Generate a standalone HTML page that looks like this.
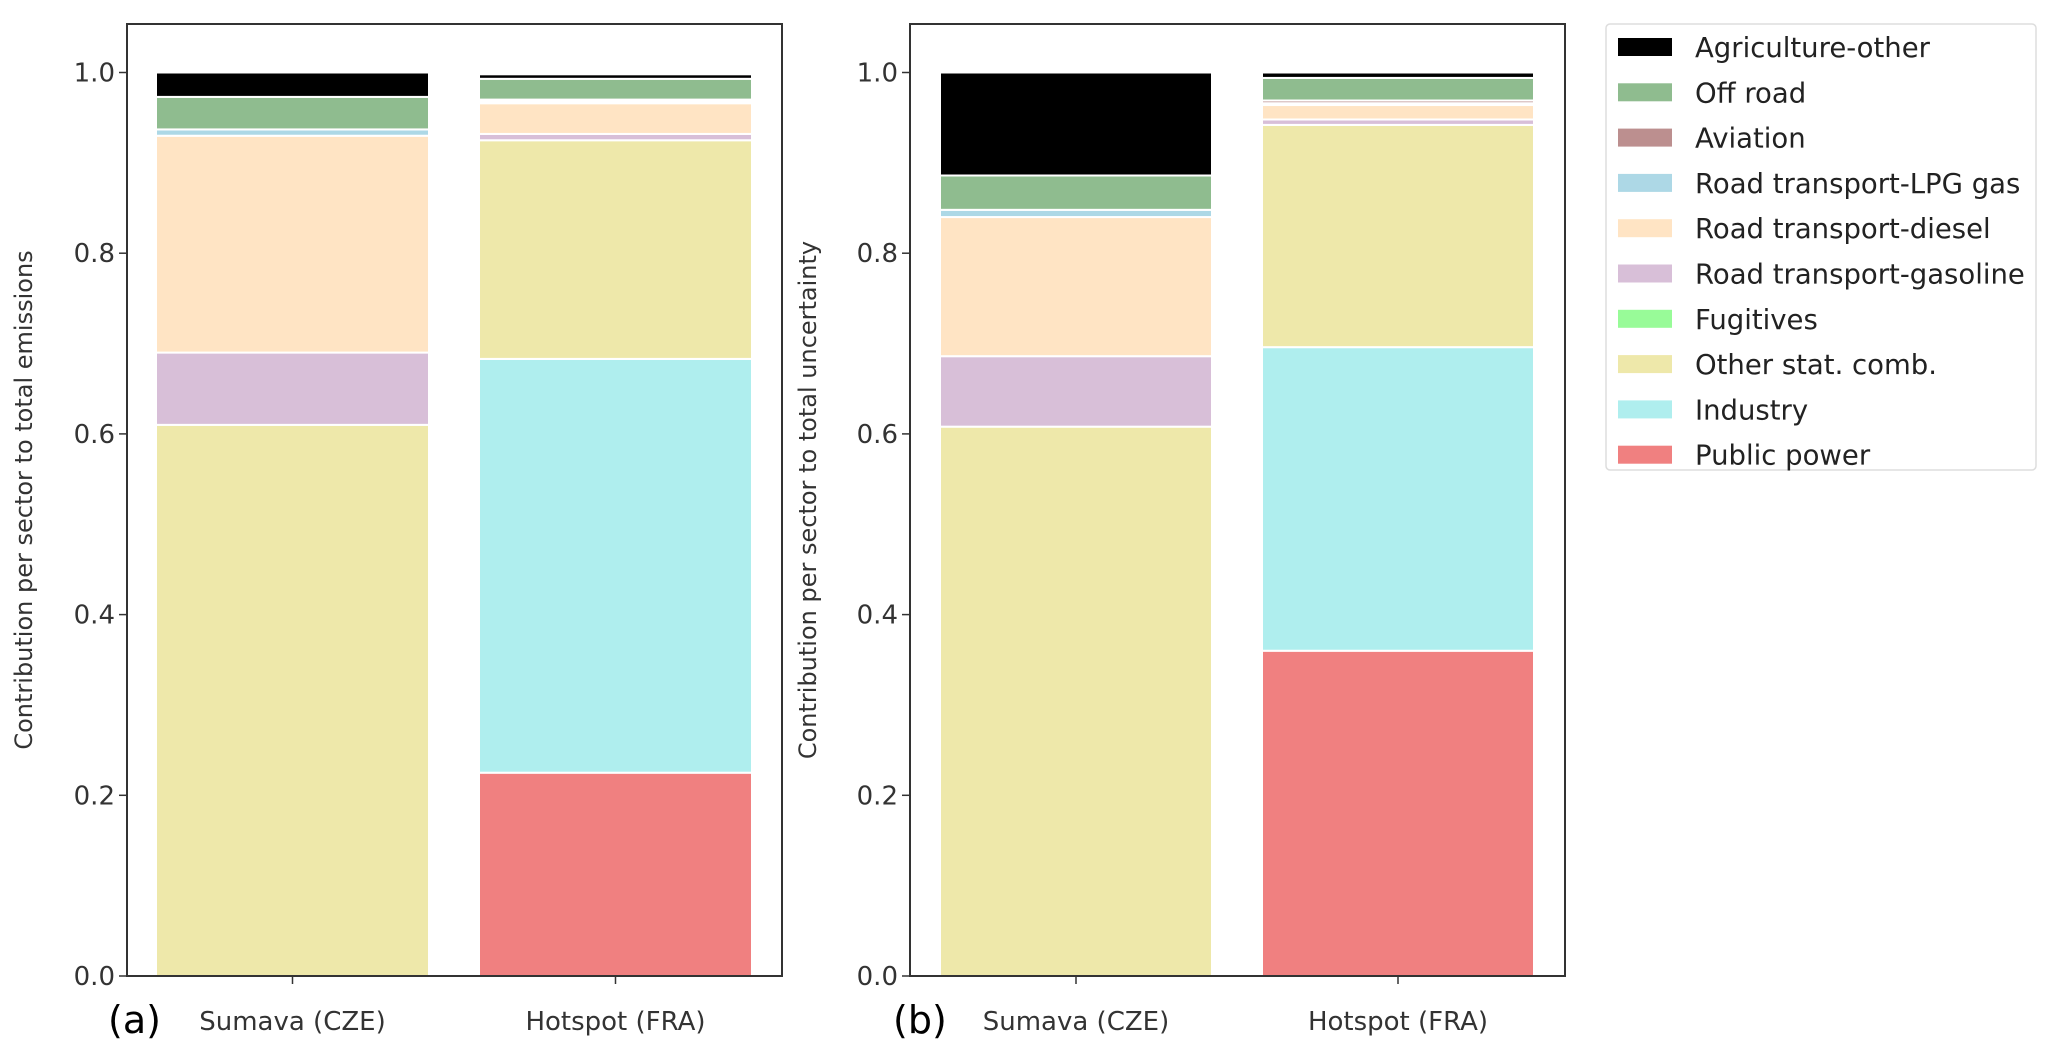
<!DOCTYPE html>
<html><head><meta charset="utf-8"><style>
html,body{margin:0;padding:0;background:#fff;}
svg{display:block;}
text{font-family:"DejaVu Sans","Liberation Sans",sans-serif;}
</style></head><body>
<svg id="chart" width="2067" height="1049" viewBox="0 0 2067 1049" xmlns="http://www.w3.org/2000/svg"></svg>
<script>
// Sectors in stacking order (bottom -> top)
const sectors = ["Public power","Industry","Other stat. comb.","Fugitives","Road transport-gasoline","Road transport-diesel","Road transport-LPG gas","Aviation","Off road","Agriculture-other"];
const sectorColors = ["#f08080","#afeeee","#eee8aa","#98fb98","#d8bfd8","#ffe4c4","#add8e6","#bc8f8f","#8fbc8f","#000000"];
const categories = ["Sumava (CZE)","Hotspot (FRA)"];
// Panel (a): contribution to total emissions
const emisSumava  = [0, 0, 0.61, 0, 0.08, 0.24, 0.007, 0, 0.036, 0.027];
const emisHotspot = [0.225, 0.458, 0.242, 0, 0.007, 0.034, 0.002, 0.002, 0.023, 0.005];
// Panel (b): contribution to total uncertainty
const uncSumava  = [0, 0, 0.608, 0, 0.078, 0.154, 0.008, 0, 0.038, 0.114];
const uncHotspot = [0.36, 0.336, 0.246, 0, 0.006, 0.016, 0.002, 0.003, 0.025, 0.006];
const yTicks = [0, 0.2, 0.4, 0.6, 0.8, 1.0];
const yTickLabels = ["0.0","0.2","0.4","0.6","0.8","1.0"];

const NS = "http://www.w3.org/2000/svg";
const svg = document.getElementById("chart");
function mk(tag, attrs, parent){
  const e = document.createElementNS(NS, tag);
  for (const k in attrs) e.setAttribute(k, attrs[k]);
  (parent || svg).appendChild(e);
  return e;
}
const Y0 = 976, Y1 = 72.5;
function yScale(v){ return Y0 - v * (Y0 - Y1); }

function panel(cfg){
  const g = mk("g", {});
  
  
  const xCenter = i => cfg.barX[i] + cfg.barW / 2;
  [cfg.s1, cfg.s2].forEach((series, i) => {
    let acc = 0;
    series.forEach((v, k) => {
      if (v <= 0) { return; }
      const r = mk("rect", {x: cfg.barX[i], y: yScale(acc + v), width: cfg.barW, height: yScale(acc) - yScale(acc + v), fill: sectorColors[k], stroke: "#fff", "stroke-width": 2}, g);
      
      
      acc += v;
    });
    const tk = mk("line", {x1: xCenter(i), x2: xCenter(i), y1: Y0, y2: Y0 + 8, stroke: "#333", "stroke-width": 1.5}, g);
    
    
    const t = mk("text", {x: xCenter(i), y: 1030, "text-anchor": "middle", "font-size": 26, fill: "#333"}, g);
    t.textContent = categories[i];
    
    
  });
  const fr = mk("rect", {x: cfg.left, y: 24, width: cfg.right - cfg.left, height: Y0 - 24, fill: "none", stroke: "#333", "stroke-width": 2}, g);
  
  
  yTicks.forEach((v, j) => {
    const l = mk("line", {x1: cfg.left - 8, x2: cfg.left, y1: yScale(v), y2: yScale(v), stroke: "#333", "stroke-width": 1.5}, g);
    
    
    const t = mk("text", {x: cfg.left - 12, y: yScale(v) + 9, "text-anchor": "end", "font-size": 26, fill: "#333"}, g);
    t.textContent = yTickLabels[j];
    
    
  });
  const yl = mk("text", {x: cfg.ylx, y: 500, "text-anchor": "middle", "font-size": 24, fill: "#333", transform: `rotate(-90 ${cfg.ylx} 500)`}, g);
  yl.textContent = cfg.ylabel;
  
  
  const pl = mk("text", {x: cfg.plx, y: 1033, "font-size": 38, fill: "#000", "font-family": "Liberation Sans, sans-serif"}, g);
  pl.textContent = cfg.plabel;
  
  
}

panel({name: "panel-a-emissions", left: 127, right: 782, barX: [156, 479], barW: 273, s1: emisSumava, s2: emisHotspot, ylabel: "Contribution per sector to total emissions", ylx: 32, plabel: "(a)", plx: 108});
panel({name: "panel-b-uncertainty", left: 910, right: 1565, barX: [940, 1262], barW: 272, s1: uncSumava, s2: uncHotspot, ylabel: "Contribution per sector to total uncertainty", ylx: 816, plabel: "(b)", plx: 893});

// Legend
const lg = mk("g", {});


const lb = mk("rect", {x: 1606, y: 24, width: 430, height: 446, rx: 4, fill: "#fff", stroke: "#ddd", "stroke-width": 1.5}, lg);


for (let i = 0; i < sectors.length; i++) {
  const k = sectors.length - 1 - i;
  const cy = 47 + i * 45.3;
  const p = mk("rect", {x: 1618, y: cy - 9, width: 54, height: 18, fill: sectorColors[k]}, lg);
  
  
  const t = mk("text", {x: 1695, y: cy + 10, "font-size": 27.5, fill: "#222"}, lg);
  t.textContent = sectors[k];
  
  
}
</script>
</body></html>
